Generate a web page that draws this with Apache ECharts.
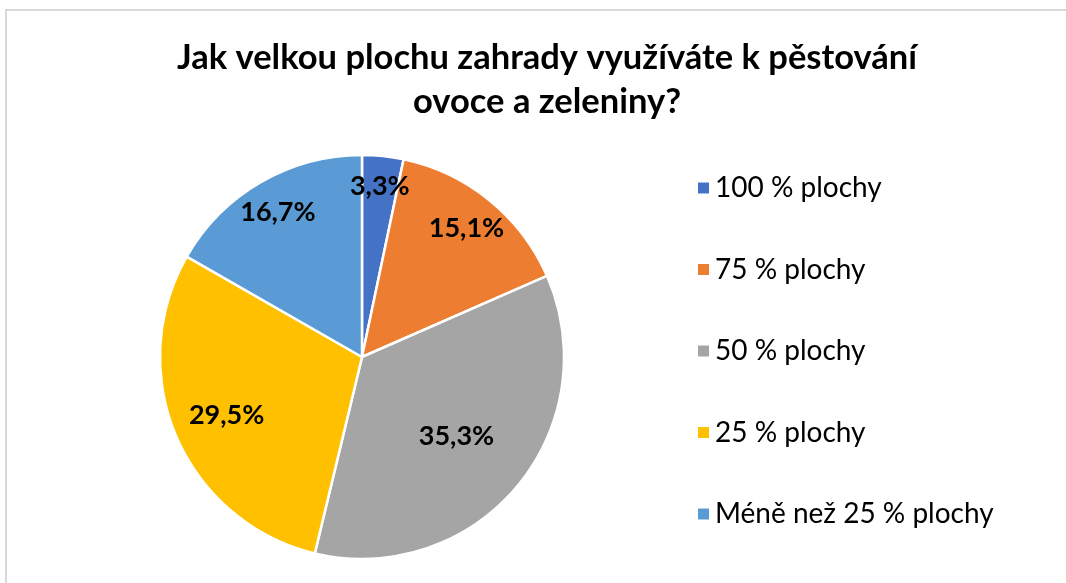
<!DOCTYPE html>
<html><head><meta charset="utf-8">
<script src="https://cdn.jsdelivr.net/npm/echarts@6/dist/echarts.min.js"></script>
<style>html,body{margin:0;padding:0;background:#fff}#c{width:1066px;height:583px}</style>
</head><body><div id="c"></div>
<script>
const titleText = 'Jak velkou plochu zahrady využíváte k pěstování\novoce a zeleniny?';
const categories = ['100 % plochy', '75 % plochy', '50 % plochy', '25 % plochy', 'Méně než 25 % plochy'];
const values = [3.3, 15.1, 35.3, 29.5, 16.7];
const colors = ['#4472C4', '#ED7D31', '#A5A5A5', '#FFC000', '#5B9BD5'];
const labelRadiusFrac = [0.85, 0.82, 0.61, 0.73, 0.83];

const chart = echarts.init(document.getElementById('c'));
const CX = 362, CY = 357, R = 202;
const total = values.reduce((a, b) => a + b, 0);
function midAngle(i) {
  let s = 0;
  for (let k = 0; k < i; k++) s += values[k];
  return (s + values[i] / 2) / total * 2 * Math.PI;
}
chart.setOption({
  animation: false,
  graphic: [{
    type: 'rect', shape: { x: 6, y: 10, width: 1100, height: 600 },
    style: { fill: 'none', stroke: '#d9d9d9', lineWidth: 2 }, silent: true
  }],
  title: {
    text: titleText, left: 542, top: 31, textAlign: 'center',
    textStyle: { fontFamily: 'Lato', fontWeight: 'bold', fontSize: 34.5, lineHeight: 44, color: '#000' }
  },
  legend: {
    orient: 'vertical', left: 691, top: 166, itemWidth: 13, itemHeight: 13, itemGap: 47.5,
    icon: 'rect',
    textStyle: { fontFamily: 'Lato', fontSize: 28, lineHeight: 34, color: '#000', padding: [0, 0, 0, 0] },
    data: categories
  },
  color: colors,
  series: [{
    type: 'pie', center: [CX, CY], radius: R, startAngle: 90, clockwise: true,
    itemStyle: { borderColor: '#fff', borderWidth: 2.5 },
    label: {
      position: 'inside', fontFamily: 'Lato', fontWeight: 'bold', fontSize: 27, color: '#000',
      formatter: p => p.value.toFixed(1).replace('.', ',') + '%'
    },
    labelLayout: function (p) {
      const a = midAngle(p.dataIndex);
      const d = labelRadiusFrac[p.dataIndex] * R;
      return { x: CX + d * Math.sin(a), y: CY - d * Math.cos(a), align: 'center', verticalAlign: 'middle' };
    },
    emphasis: { disabled: true },
    data: categories.map((c, i) => ({ name: c, value: values[i] }))
  }]
});
</script></body></html>
